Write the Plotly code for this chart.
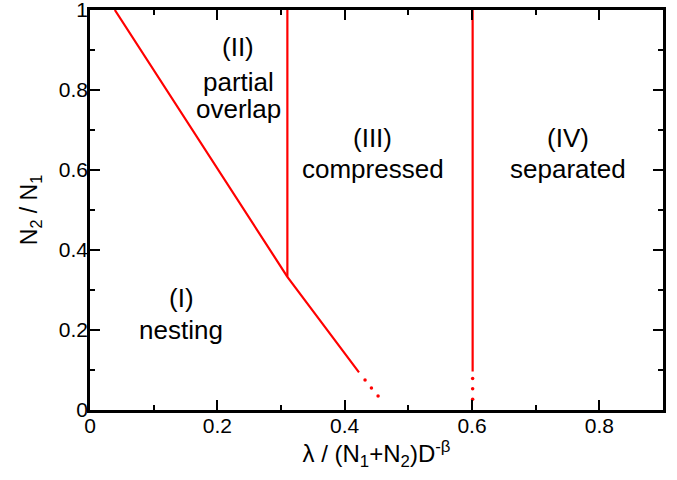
import plotly.graph_objects as go

# boundary I/II and I/III (solid part)
diag_x = [0.039, 0.31, 0.4225]
diag_y = [1.0, 0.333, 0.094]
# dotted extrapolation of the diagonal
diag_dot_x = [0.432, 0.442, 0.4525]
diag_dot_y = [0.075, 0.055, 0.035]
# boundary II/III
v1_x = [0.31, 0.31]
v1_y = [0.333, 1.0]
# boundary III/IV
v2_x = [0.601, 0.601]
v2_y = [0.096, 1.0]
v2_dot_x = [0.601, 0.601, 0.601]
v2_dot_y = [0.079, 0.053, 0.027]

region_text = ["(I)", "nesting", "(II)", "partial", "overlap",
               "(III)", "compressed", "(IV)", "separated"]
region_x = [0.143, 0.143, 0.233, 0.233, 0.233, 0.444, 0.444, 0.751, 0.751]
region_y = [0.28, 0.20, 0.9075, 0.82, 0.7525, 0.68, 0.6025, 0.68, 0.6025]

x_ticks = [0, 0.2, 0.4, 0.6, 0.8]
y_ticks = [0, 0.2, 0.4, 0.6, 0.8, 1]

RED = "#ff0000"
FONT = "Liberation Sans, Arial, Helvetica, sans-serif"

fig = go.Figure()
for xs, ys in [(diag_x, diag_y), (v1_x, v1_y), (v2_x, v2_y)]:
    fig.add_trace(go.Scatter(x=xs, y=ys, mode="lines",
                             line=dict(color=RED, width=2.2), showlegend=False,
                             hoverinfo="skip"))
for xs, ys in [(diag_dot_x, diag_dot_y), (v2_dot_x, v2_dot_y)]:
    fig.add_trace(go.Scatter(x=xs, y=ys, mode="markers",
                             marker=dict(color=RED, size=3.5), showlegend=False,
                             hoverinfo="skip"))

for t, x, y in zip(region_text, region_x, region_y):
    fig.add_annotation(x=x, y=y, text=t, showarrow=False,
                       font=dict(size=26, color="black", family=FONT),
                       xanchor="center", yanchor="middle", align="center")

axis_common = dict(
    showgrid=False, zeroline=False, showline=True, linecolor="black", linewidth=2.5,
    mirror="allticks", ticks="inside", ticklen=10, tickwidth=2, tickcolor="black",
    tickfont=dict(size=21, color="black", family=FONT), automargin=False,
    ticklabeloverflow="allow",
    minor=dict(ticks="inside", ticklen=5, tickwidth=2, tickcolor="black", dtick=0.1),
)

fig.update_xaxes(range=[0, 0.9], tickvals=x_ticks, ticktext=[f"{v:g}" for v in x_ticks],
                 ticklabelstandoff=-5,
                 title=dict(text="λ / (N<sub>1</sub>+N<sub>2</sub>)D<sup>-β</sup>",
                            font=dict(size=24, color="black", family=FONT), standoff=6),
                 **axis_common)
fig.update_yaxes(range=[0, 1], tickvals=y_ticks, ticktext=[f"{v:g}" for v in y_ticks],
                 ticklabelstandoff=-5,
                 title=dict(text="N<sub>2</sub> / N<sub>1</sub>",
                            font=dict(size=23, color="black", family=FONT), standoff=15),
                 **axis_common)

fig.update_layout(
    width=677, height=480,
    margin=dict(l=90, r=14, t=10, b=70),
    plot_bgcolor="white", paper_bgcolor="white",
    font=dict(family=FONT, color="black"),
)

fig.write_html("out.html")
